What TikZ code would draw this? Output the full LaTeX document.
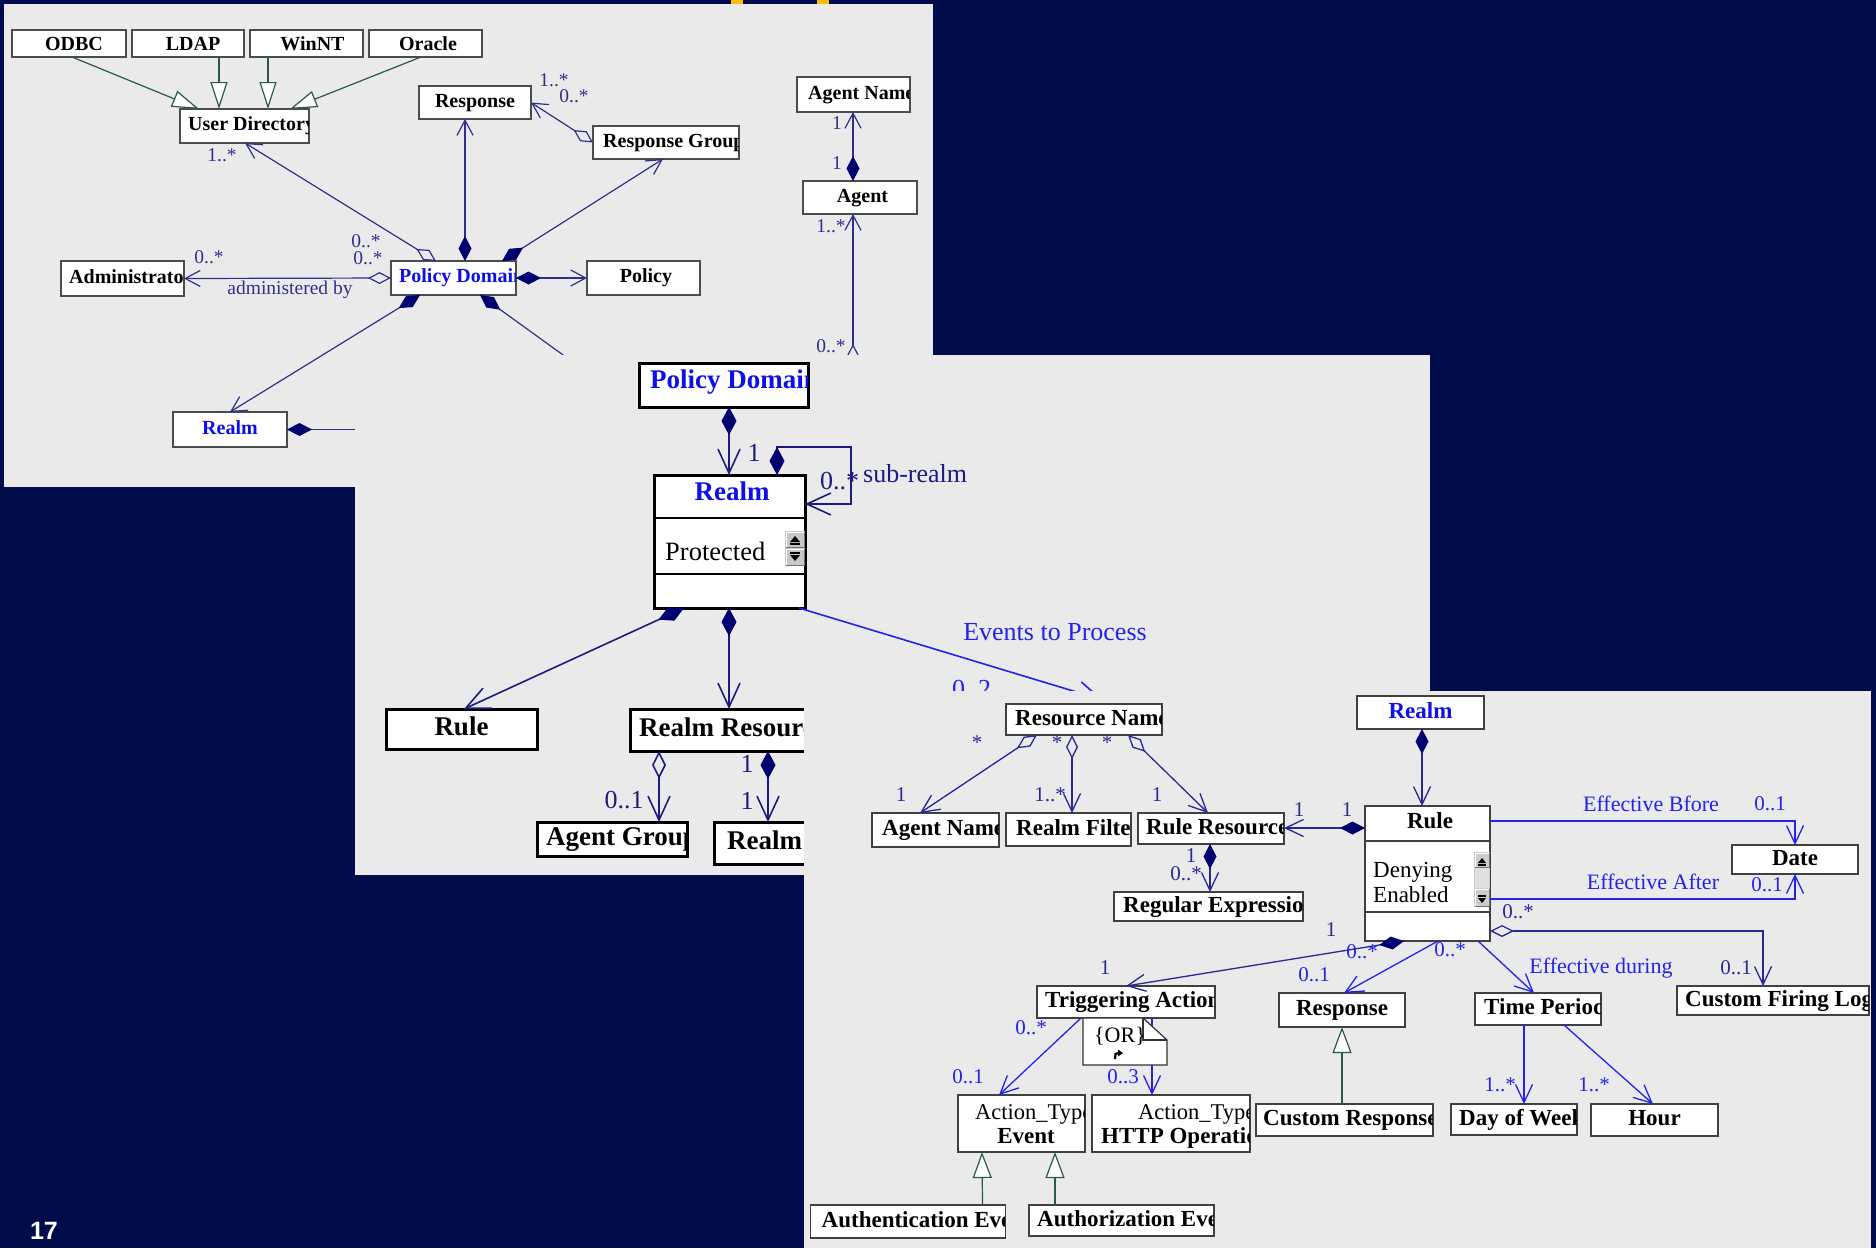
\documentclass[tikz,border=0pt]{standalone}
\usepackage{fontspec}
\setmainfont{Liberation Serif}
\newfontfamily\pagenumfont{Liberation Sans}
\usetikzlibrary{arrows.meta,calc}

\definecolor{slidebg}{RGB}{1,13,75}
\definecolor{panelgray}{RGB}{234,234,234}
\definecolor{accent}{RGB}{250,190,0}
\definecolor{lnA}{RGB}{48,48,140}
\definecolor{lnB}{RGB}{28,28,128}
\definecolor{lnC}{RGB}{40,40,150}
\definecolor{lnBlue}{RGB}{35,35,235}
\definecolor{dia}{RGB}{0,0,110}
\definecolor{genc}{RGB}{40,88,82}
\definecolor{nameblue}{RGB}{15,15,235}

\newcommand\fsz[1]{\fontsize{#1}{#1}\selectfont}
% text that is cut off at the border of its class box
\newcommand\cliptext[4][]{%
  \begin{scope}
    \clip ([xshift=1pt,yshift=1pt]#2.south west) rectangle ([xshift=-1pt,yshift=-1pt]#2.north east);
    \node[anchor=west,#1] (#2-t) at ([xshift=#3pt]#2.west) {#4};
  \end{scope}}

\tikzset{
  box1/.style={draw=black!70, fill=white, line width=1.2pt, inner sep=0pt, outer sep=0pt,
    font=\fsz{20}\bfseries, text height=14pt, text depth=5pt},
  box2/.style={draw=black, fill=white, line width=3pt, inner sep=0pt, outer sep=0pt,
    font=\fsz{27}\bfseries, text height=19.5pt, text depth=6pt},
  box3/.style={draw=black!75, fill=white, line width=1.3pt, inner sep=0pt, outer sep=0pt,
    font=\fsz{23}\bfseries, text height=16pt, text depth=5pt},
  txt1/.style={inner sep=0pt, font=\fsz{20}\bfseries, text height=14pt, text depth=5pt},
  txt2/.style={inner sep=0pt, font=\fsz{27}\bfseries, text height=19.5pt, text depth=6pt},
  txt3/.style={inner sep=0pt, font=\fsz{23}\bfseries, text height=16pt, text depth=5pt},
  mul1/.style={inner sep=0pt, text=lnA, font=\fsz{19.5}},
  mul2/.style={inner sep=0pt, text=lnB, font=\fsz{26}},
  evtxt/.style={inner sep=0pt, text=lnBlue, font=\fsz{26}},
  mul3/.style={inner sep=0pt, text=lnC, font=\fsz{21}},
  mul3b/.style={inner sep=0pt, text=lnBlue, font=\fsz{21}},
  role3b/.style={inner sep=0pt, text=lnBlue, font=\fsz{22}},
  link1/.style={draw=lnA, line width=1.2pt},
  link2/.style={draw=lnB, line width=1.6pt},
  evline/.style={draw=lnBlue, line width=1.6pt},
  link3/.style={draw=lnC, line width=1.3pt},
  link3b/.style={draw=lnBlue, line width=1.3pt},
  genl/.style={draw=genc, line width=1.2pt},
  cdA/.tip={Diamond[length=25pt,width=13pt,color=dia]},
  odA/.tip={Diamond[open,length=23pt,width=12pt]},
  baA/.tip={Straight Barb[length=15pt,width=16pt]},
  cdB/.tip={Diamond[length=28pt,width=15pt,color=dia]},
  odB/.tip={Diamond[open,length=28pt,width=14pt]},
  baB/.tip={Straight Barb[length=24pt,width=22pt]},
  cdC/.tip={Diamond[length=25pt,width=13pt,color=dia]},
  odC/.tip={Diamond[open,length=24pt,width=12pt]},
  baC/.tip={Straight Barb[length=18pt,width=17pt]},
  gnA/.tip={Triangle[open,length=27pt,width=17pt,fill=white]},
  gnC/.tip={Triangle[open,length=26pt,width=19pt,fill=white]},
}

\begin{document}
\begin{tikzpicture}[x=1pt,y=-1pt]
\useasboundingbox (0,0) rectangle (1876,1248);
\fill[slidebg] (0,0) rectangle (1876,1248);
\fill[accent] (731,0) rectangle (743,4);
\fill[accent] (817,0) rectangle (829,4);
\node[text=white, font=\pagenumfont\bfseries\fsz{25}, inner sep=0pt] (pagenum) at (44,1231) {17};

% ================= overview panel =================
\fill[panelgray] (4,4) rectangle (933,487);

\node[box1, minimum width=114pt, minimum height=27pt] (odbc) at (69,43.5) {\hspace*{10pt}\raisebox{-2.5pt}{ODBC}};
\node[box1, minimum width=112pt, minimum height=27pt] (ldap) at (188,43.5) {\hspace*{10pt}\raisebox{-2.5pt}{LDAP}};
\node[box1, minimum width=113pt, minimum height=27pt] (winnt) at (306.5,43.5) {\hspace*{12pt}\raisebox{-2.5pt}{WinNT}};
\node[box1, minimum width=113pt, minimum height=27pt] (oracle) at (425.5,43.5) {\hspace*{5pt}\raisebox{-2.5pt}{Oracle}};
\node[box1, minimum width=129pt, minimum height=34pt] (ud) at (244.5,126) {};
\cliptext[txt1]{ud}{8}{User Directory}
\node[box1, minimum width=112pt, minimum height=33pt] (rsp1) at (475,102.5) {Response};
\node[box1, minimum width=146pt, minimum height=33pt] (rg1) at (666,142.5) {};
\cliptext[txt1]{rg1}{10}{Response Group}
\node[box1, minimum width=125pt, minimum height=34pt] (pd1) at (453.5,278) {};
\cliptext[txt1,text=nameblue]{pd1}{8}{Policy Domain}
\node[box1, minimum width=123pt, minimum height=35pt] (adm) at (122.5,278.5) {};
\cliptext[txt1]{adm}{8}{Administrator}
\node[box1, minimum width=113pt, minimum height=34pt] (pol) at (643.5,278) {\hspace*{5pt}Policy};
\node[box1, minimum width=114pt, minimum height=35pt, text=nameblue] (realm1) at (230,429.5) {Realm};
\node[box1, minimum width=113pt, minimum height=35pt] (agn1) at (853.5,94.5) {};
\cliptext[txt1]{agn1}{11}{Agent Name}
\node[box1, minimum width=114pt, minimum height=33pt] (agent) at (860,197.5) {\hspace*{5pt}Agent};

% generalizations of the user directory
\draw[genl, -gnA] ($(odbc.south west)+(60,0)$) -- ($(ud.north west)+(19,0)$);
\draw[genl, -gnA] ($(ldap.south west)+(87,0)$) -- ($(ud.north west)+(39,0)$);
\draw[genl, -gnA] ($(winnt.south west)+(18,0)$) -- ($(ud.north west)+(88,0)$);
\draw[genl, -gnA] ($(oracle.south west)+(52,0)$) -- ($(ud.north west)+(110,0)$);

% associations around the policy domain
\draw[link1, odA-baA] ($(pd1.north west)+(45,0)$) -- ($(ud.south west)+(65,0)$);
\draw[link1, cdA-baA] ($(pd1.north west)+(74,0)$) -- ($(rsp1.south west)+(46,0)$);
\draw[link1, cdA-baA] ($(pd1.north west)+(111,0)$) -- ($(rg1.south west)+(70,0)$);
\draw[link1, odA-baA] (rg1.west) -- (rsp1.east);
\draw[link1, cdA-baA] (pd1.east) -- (pol.west);
\draw[link1, odA-baA] (pd1.west) -- (adm.east);
\draw[link1, cdA-baA] ($(pd1.south west)+(29,0)$) -- (realm1.north);
\coordinate (pdcut) at (577,365);
\draw[link1, cdA-] ($(pd1.south west)+(89,0)$) -- (pdcut);
\coordinate (realmcut) at (365,429.5);
\draw[link1, cdA-] (realm1.east) -- (realmcut);
\draw[link1, cdA-baA] ($(agent.north west)+(50,0)$) -- ($(agn1.south west)+(56,0)$);
\coordinate (agentcut) at (853,367);
\draw[link1, odA-baA] (agentcut) -- ($(agent.south west)+(50,0)$);

\node[mul1] (m1a) at (222,155) {1..*};
\node[mul1] (m1b) at (209,257) {0..*};
\node[mul1] (m1c) at (366,241) {0..*};
\node[mul1] (m1d) at (368,258) {0..*};
\node[mul1] (m1e) at (290,290) {administered by};
\node[mul1] (m1f) at (554,80) {1..*};
\node[mul1] (m1g) at (574,96) {0..*};
\node[mul1] (m1h) at (837,123) {1};
\node[mul1] (m1i) at (837,163) {1};
\node[mul1] (m1j) at (831,226) {1..*};
\node[mul1] (m1k) at (831,346) {0..*};

% ================= realm panel =================
\fill[panelgray] (355,355) rectangle (1430,875);

\node[box2, minimum width=169pt, minimum height=44pt] (pd2) at (723.5,385) {};
\cliptext[txt2,text=nameblue,yshift=3.5pt]{pd2}{11}{Policy Domain}
\node[box2, minimum width=151pt, minimum height=133pt] (realm2) at (729.5,541.5) {};
\draw[black, line width=2.5pt] ($(realm2.north west)+(0,43)$) -- ($(realm2.north east)+(0,43)$);
\draw[black, line width=2.5pt] ($(realm2.north west)+(0,99)$) -- ($(realm2.north east)+(0,99)$);
\node[txt2, anchor=base, text=nameblue, text height=, text depth=] (realm2-t) at (732,500) {Realm};
\node[inner sep=0pt, anchor=base west, font=\fsz{26.5}] (realm2-a) at (665,560) {Protected};
% attribute scroll buttons
\fill[black!22] (785,531) rectangle (805,566);
\foreach \ya/\yb in {531/548,548/566}{
  \draw[white, line width=1pt] (786,\yb-1) -- (786,\ya+1) -- (804,\ya+1);
  \draw[black!55, line width=1pt] (786,\yb-0.5) -- (804.5,\yb-0.5) -- (804.5,\ya+0.5);}
\fill (790,542) -- (800,542) -- (795,536) -- cycle;
\fill (790,543) rectangle (800,544.5);
\fill (790,552) rectangle (800,553.5);
\fill (790,555) -- (800,555) -- (795,561) -- cycle;

\node[box2, minimum width=151pt, minimum height=40pt] (rule2) at (461.5,729) {Rule};
\node[box2, minimum width=230pt, minimum height=42pt] (rr2) at (745,730) {};
\cliptext[txt2]{rr2}{9}{Realm Resource}
\node[box2, minimum width=150pt, minimum height=34pt] (ag2) at (612,839) {};
\cliptext[txt2]{ag2}{9}{Agent Group}
\node[box2, minimum width=146pt, minimum height=42pt] (realm2b) at (787,843) {};
\cliptext[txt2]{realm2b}{13}{Realm}

\draw[link2, cdB-baB] ($(pd2.south west)+(90,0)$) -- ($(realm2.north west)+(75,0)$);
\draw[link2, cdB-baB] ($(realm2.north west)+(123,0)$) -- ++(0,-28) -- ++(74,0) |- ($(realm2.north east)+(0,29)$);
\draw[link2, cdB-baB] ($(realm2.south west)+(30,0)$) -- ($(rule2.north west)+(78,0)$);
\draw[link2, cdB-baB] ($(realm2.south west)+(75,0)$) -- ($(rr2.north west)+(99,0)$);
\draw[link2, odB-baB] ($(rr2.south west)+(29,0)$) -- ($(ag2.north west)+(122,0)$);
\draw[link2, cdB-baB] ($(rr2.south west)+(138,0)$) -- ($(realm2b.north west)+(54,0)$);
\coordinate (evcut) at (1103,700);
\draw[evline, -baB] ($(realm2.south east)+(-6,0)$) -- (evcut);

\node[mul2] (m2a) at (754,453) {1};
\node[mul2, anchor=base west] (m2b) at (820,489) {0..*};
\node[mul2, anchor=base west] (m2c) at (863,482) {sub-realm};
\node[mul2] (m2d) at (624,800) {0..1};
\node[mul2] (m2e) at (747,764) {1};
\node[mul2] (m2f) at (747,801) {1};
\node[evtxt] (m2g) at (1055,632) {Events to Process};
\node[evtxt, anchor=base west] (m2h) at (952,697) {0..2};

% ================= rule panel =================
\fill[panelgray] (804,691) rectangle (1871,1248);

\node[box3, minimum width=156pt, minimum height=31pt] (rn3) at (1084,719.5) {};
\cliptext[txt3]{rn3}{9}{Resource Name}
\node[box3, minimum width=127pt, minimum height=34pt] (an3) at (935.5,830) {};
\cliptext[txt3]{an3}{10}{Agent Name}
\node[box3, minimum width=125pt, minimum height=33pt] (rf3) at (1068.5,829.5) {};
\cliptext[txt3]{rf3}{10}{Realm Filter}
\node[box3, minimum width=146pt, minimum height=31pt] (rres3) at (1211,828.5) {};
\cliptext[txt3]{rres3}{8}{Rule Resource}
\node[box3, minimum width=189pt, minimum height=29pt] (re3) at (1208.5,906.5) {};
\cliptext[txt3]{re3}{9}{Regular Expression}
\node[box3, minimum width=127pt, minimum height=33pt, text=nameblue] (realm3) at (1420.5,712.5) {Realm};
\node[box3, minimum width=125pt, minimum height=135pt] (rule3) at (1427.5,873.5) {};
\draw[black!75, line width=1.5pt] ($(rule3.north west)+(0,35)$) -- ($(rule3.north east)+(0,35)$);
\draw[black!75, line width=1.5pt] ($(rule3.north west)+(0,106)$) -- ($(rule3.north east)+(0,106)$);
\node[txt3, anchor=base, text height=, text depth=] (rule3-t) at (1430,828) {Rule};
\node[inner sep=0pt, anchor=base west, font=\fsz{23}] (rule3-a) at (1373,877) {Denying};
\node[inner sep=0pt, anchor=base west, font=\fsz{23}] (rule3-b) at (1373,902) {Enabled};
% attribute scroll bar
\fill[black!20] (1474,852) rectangle (1490,907);
\fill[black!12] (1475,868) rectangle (1489,888);
\foreach \ya/\yb in {852/868,888/907}{
  \draw[white, line width=1pt] (1475,\yb-1) -- (1475,\ya+1) -- (1489,\ya+1);
  \draw[black!55, line width=1pt] (1475,\yb-0.5) -- (1489.5,\yb-0.5) -- (1489.5,\ya+0.5);}
\fill (1478,863) -- (1486,863) -- (1482,858) -- cycle;
\fill (1478,864) rectangle (1486,865.5);
\fill (1478,895) rectangle (1486,896.5);
\fill (1478,898) -- (1486,898) -- (1482,903) -- cycle;

\node[box3, minimum width=126pt, minimum height=29pt] (date) at (1795,859.5) {Date};
\node[box3, minimum width=192pt, minimum height=29pt] (cfl) at (1773,1000.5) {};
\cliptext[txt3]{cfl}{8}{Custom Firing Log}
\node[box3, minimum width=178pt, minimum height=32pt] (ta3) at (1126,1002) {};
\cliptext[txt3]{ta3}{8}{Triggering Action}
\node[box3, minimum width=126pt, minimum height=34pt] (rsp3) at (1342,1010) {Response};
\node[box3, minimum width=126pt, minimum height=32pt] (tp3) at (1538,1009) {};
\cliptext[txt3]{tp3}{9}{Time Period}
\node[box3, minimum width=127pt, minimum height=57pt] (ate) at (1021.5,1123.5) {};
\begin{scope}
  \clip ([xshift=1pt,yshift=1pt]ate.south west) rectangle ([xshift=-1pt,yshift=-1pt]ate.north east);
  \node[inner sep=0pt, anchor=base west, font=\fsz{22.5}] (ate-a) at (975,1119) {Action\_Type};
  \node[inner sep=0pt, anchor=base, font=\fsz{23}\bfseries] (ate-b) at (1026,1143) {Event};
\end{scope}
\node[box3, minimum width=158pt, minimum height=57pt] (ath) at (1171,1123.5) {};
\begin{scope}
  \clip ([xshift=1pt,yshift=1pt]ath.south west) rectangle ([xshift=-1pt,yshift=-1pt]ath.north east);
  \node[inner sep=0pt, anchor=base west, font=\fsz{22.5}] (ath-a) at (1138,1119) {Action\_Type};
  \node[inner sep=0pt, anchor=base west, font=\fsz{23}\bfseries] (ath-b) at (1101,1143) {HTTP Operation};
\end{scope}
\node[box3, minimum width=177pt, minimum height=32pt] (cr) at (1344.5,1120) {};
\cliptext[txt3]{cr}{7}{Custom Response}
\node[box3, minimum width=126pt, minimum height=31pt] (dow) at (1514,1119.5) {};
\cliptext[txt3]{dow}{8}{Day of Week}
\node[box3, minimum width=127pt, minimum height=32pt] (hour) at (1654.5,1120) {Hour};
\node[box3, minimum width=195pt, minimum height=33pt] (authn) at (908,1221.5) {};
\cliptext[txt3]{authn}{11}{Authentication Event}
\node[box3, minimum width=185pt, minimum height=31pt] (authz) at (1121.5,1220.5) {};
\cliptext[txt3]{authz}{8}{Authorization Event}

% associations of the rule model
\draw[link3, odC-baC] ($(rn3.south west)+(31,0)$) -- ($(an3.north west)+(48,0)$);
\draw[link3, odC-baC] ($(rn3.south west)+(66,0)$) -- ($(rf3.north west)+(66,0)$);
\draw[link3, odC-baC] ($(rn3.south west)+(122,0)$) -- ($(rres3.north west)+(70,0)$);
\draw[link3, cdC-baC] ($(rule3.north west)+(0,22)$) -- ($(rres3.north east)+(0,15)$);
\draw[link3, cdC-baC] ($(rres3.south west)+(72,0)$) -- ($(re3.north west)+(96,0)$);
\draw[link3, cdC-baC] ($(realm3.south west)+(65,0)$) -- ($(rule3.north west)+(57,0)$);
\draw[link3b, -baC] ($(rule3.north east)+(0,15)$) -| (date.north);
\draw[link3b, -baC] ($(rule3.north east)+(0,93)$) -| (date.south);
\draw[link3, odC-baC] ($(rule3.north east)+(0,125)$) -| ($(cfl.north west)+(86,0)$);
\draw[link3, cdC-baC] ($(rule3.south west)+(39,0)$) -- ($(ta3.north west)+(89,0)$);
\draw[link3b, -baC] ($(rule3.south west)+(73,0)$) -- ($(rsp3.north west)+(65,0)$);
\draw[link3b, -baC] ($(rule3.south west)+(113,0)$) -- ($(tp3.north west)+(59,0)$);
\draw[link3b, -baC] ($(ta3.south west)+(44,0)$) -- ($(ate.north west)+(41,0)$);
\draw[link3b, -baC] ($(ta3.south west)+(115,0)$) -- ($(ath.north west)+(60,0)$);
\draw[link3b, -baC] ($(tp3.south west)+(49,0)$) -- ($(dow.north west)+(73,0)$);
\draw[link3b, -baC] ($(tp3.south west)+(89,0)$) -- ($(hour.north west)+(62,0)$);
\draw[genl, -gnC] ($(cr.north west)+(86,0)$) -- (rsp3.south);
\draw[genl, -gnC] ($(authn.north west)+(172,0)$) -- ($(ate.south west)+(24,0)$);
\draw[genl, -gnC] ($(authz.north west)+(26,0)$) -- ($(ate.south west)+(97,0)$);

% {OR} constraint note
\filldraw[fill=white, draw=black!80, line width=1.2pt] (1083,1018) -- (1143,1018) -- (1167,1040) -- (1167,1065) -- (1083,1065) -- cycle;
\draw[black!80, line width=1.2pt] (1143,1018) -- (1143,1040) -- (1167,1040);
\node[inner sep=0pt, font=\fsz{22}] (ornote) at (1120,1036) {\{OR\}};
\draw[line width=2.2pt] (1115,1059) -- (1115.5,1054) -- (1119,1053);
\fill (1118,1049.5) -- (1123,1053) -- (1118,1056.5) -- cycle;

\node[mul3] (m3a) at (977,743) {*};
\node[mul3] (m3b) at (1057,743) {*};
\node[mul3] (m3c) at (1107,743) {*};
\node[mul3] (m3d) at (901,795) {1};
\node[mul3] (m3e) at (1050,795) {1..*};
\node[mul3] (m3f) at (1157,795) {1};
\node[mul3] (m3g) at (1299,810) {1};
\node[mul3] (m3h) at (1347,810) {1};
\node[mul3] (m3i) at (1191,856) {1};
\node[mul3] (m3j) at (1186,874) {0..*};
\node[mul3] (m3k) at (1518,912) {0..*};
\node[mul3] (m3l) at (1736,968) {0..1};
\node[mul3] (m3m) at (1331,930) {1};
\node[mul3] (m3n) at (1105,968) {1};
\node[mul3b] (m3o) at (1770,804) {0..1};
\node[mul3b] (m3p) at (1767,885) {0..1};
\node[mul3b] (m3q) at (1362,952) {0..*};
\node[mul3b] (m3r) at (1450,950) {0..*};
\node[mul3b] (m3s) at (1314,975) {0..1};
\node[mul3b] (m3t) at (1031,1028) {0..*};
\node[mul3b] (m3u) at (968,1077) {0..1};
\node[mul3b] (m3v) at (1123,1077) {0..3};
\node[mul3b] (m3w) at (1500,1085) {1..*};
\node[mul3b] (m3x) at (1594,1085) {1..*};
\node[role3b] (r3a) at (1651,804) {Effective Bfore};
\node[role3b] (r3b) at (1653,882) {Effective After};
\node[role3b] (r3c) at (1601,968) {Effective during};
\end{tikzpicture}
\end{document}
